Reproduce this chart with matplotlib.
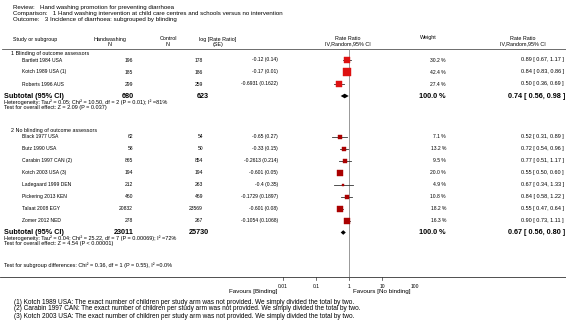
import matplotlib
matplotlib.use("Agg")
import matplotlib.pyplot as plt

plt.rcParams['font.family'] = ['Liberation Sans', 'DejaVu Sans']

# Group 1: blinding of outcome assessors
studies1 = ['Bartlett 1984 USA', 'Kotch 1989 USA (1)', 'Roberts 1996 AUS']
hw_n1 = [196, 185, 299]
ctrl_n1 = [178, 186, 259]
logrr1 = [-0.12, -0.17, -0.6931]
se1 = [0.14, 0.01, 0.1622]
weight1 = [30.2, 42.4, 27.4]
rr1 = [0.89, 0.84, 0.50]
lo1 = [0.67, 0.83, 0.36]
hi1 = [1.17, 0.86, 0.69]
total1 = (680, 623, 0.74, 0.56, 0.98)
het1 = 'Heterogeneity: Tau\u00b2 = 0.05; Chi\u00b2 = 10.50, df = 2 (P = 0.01); I\u00b2 =81%'
test1 = 'Test for overall effect: Z = 2.09 (P = 0.037)'

# Group 2: no blinding of outcome assessors
studies2 = ['Black 1977 USA', 'Butz 1990 USA', 'Carabin 1997 CAN (2)', 'Kotch 2003 USA (3)',
            'Ladegaard 1999 DEN', 'Pickering 2013 KEN', 'Talaat 2008 EGY', 'Zomer 2012 NED']
hw_n2 = [62, 58, 865, 194, 212, 460, 20832, 278]
ctrl_n2 = [54, 50, 854, 194, 263, 469, 23569, 267]
logrr2 = [-0.65, -0.33, -0.2613, -0.601, -0.4, -0.1729, -0.601, -0.1054]
se2 = [0.27, 0.15, 0.214, 0.05, 0.35, 0.1897, 0.08, 0.1068]
weight2 = [7.1, 13.2, 9.5, 20.0, 4.9, 10.8, 18.2, 16.3]
rr2 = [0.52, 0.72, 0.77, 0.55, 0.67, 0.84, 0.55, 0.90]
lo2 = [0.31, 0.54, 0.51, 0.50, 0.34, 0.58, 0.47, 0.73]
hi2 = [0.89, 0.96, 1.17, 0.60, 1.33, 1.22, 0.64, 1.11]
total2 = (23011, 25730, 0.67, 0.56, 0.80)
het2 = 'Heterogeneity: Tau\u00b2 = 0.04; Chi\u00b2 = 25.22, df = 7 (P = 0.00069); I\u00b2 =72%'
test2 = 'Test for overall effect: Z = 4.54 (P < 0.00001)'

subgroup_test = 'Test for subgroup differences: Chi\u00b2 = 0.36, df = 1 (P = 0.55), I\u00b2 =0.0%'
ticks = [0.01, 0.1, 1, 10, 100]
tick_labels = ['0.01', '0.1', '1', '10', '100']
footnotes = [
    '(1) Kotch 1989 USA: The exact number of children per study arm was not provided. We simply divided the total by two.',
    '(2) Carabin 1997 CAN: The exact number of children per study arm was not provided. We simply divided the total by two.',
    '(3) Kotch 2003 USA: The exact number of children per study arm was not provided. We simply divided the total by two.',
]

fig = plt.figure(figsize=(5.66, 3.34), dpi=100)
ax = fig.add_axes([0, 0, 1, 1])
ax.set_xlim(0, 566)
ax.set_ylim(334, 0)
ax.axis('off')

# forest panel on a log scale, 0.01 .. 100
fax = fig.add_axes([283 / 566, 0, 132 / 566, 1])
fax.set_xscale('log')
fax.set_xlim(0.01, 100)
fax.set_ylim(334, 0)
fax.axis('off')

fs = 3.6       # table rows
fs_hd = 3.9    # column headers
fs_st = 4.0    # heterogeneity / tests
fs_tt = 4.45   # review / comparison / outcome
fs_rc = 4.0    # right-hand rate ratio column
fsb = 5.2      # subtotal rows

ax.text(13, 8, 'Review:   Hand washing promotion for preventing diarrhoea', fontsize=fs_tt, va='center')
ax.text(13, 13.5, 'Comparison:   1 Hand washing intervention at child care centres and schools versus no intervention',
        fontsize=fs_tt, va='center')
ax.text(13, 19, 'Outcome:   3 Incidence of diarrhoea: subgrouped by blinding', fontsize=fs_tt, va='center')

# column headers
ax.text(13, 39, 'Study or subgroup', fontsize=fs_hd, va='center')
ax.text(110, 39, 'Handwashing', fontsize=fs_hd, va='center', ha='center')
ax.text(110, 44.5, 'N', fontsize=fs_hd, va='center', ha='center')
ax.text(168, 39, 'Control', fontsize=fs_hd, va='center', ha='center')
ax.text(168, 44.5, 'N', fontsize=fs_hd, va='center', ha='center')
ax.text(218, 39, 'log [Rate Ratio]', fontsize=fs_hd, va='center', ha='center')
ax.text(218, 44.5, '(SE)', fontsize=fs_hd, va='center', ha='center')
ax.text(348, 38, 'Rate Ratio', fontsize=fs_hd, va='center', ha='center')
ax.text(348, 43.5, 'IV,Random,95% CI', fontsize=fs_hd, va='center', ha='center')
ax.text(428, 38, 'Weight', fontsize=fs_hd, va='center', ha='center')
ax.text(523, 38, 'Rate Ratio', fontsize=fs_hd, va='center', ha='center')
ax.text(523, 43.5, 'IV,Random,95% CI', fontsize=fs_hd, va='center', ha='center')
ax.plot([2, 566], [49, 49], color='#555555', lw=0.6)

groups = [
    ('1 Blinding of outcome assessors', studies1, hw_n1, ctrl_n1, logrr1, se1, weight1, rr1, lo1, hi1,
     total1, het1, test1, '#dd1111', 54),
    ('2 No blinding of outcome assessors', studies2, hw_n2, ctrl_n2, logrr2, se2, weight2, rr2, lo2, hi2,
     total2, het2, test2, '#aa0000', 130.5),
]

for (title, names, hw, ctrl, lrr, se, w, rr, lo, hi, tot, het, test, col, y0) in groups:
    ax.text(11, y0, title, fontsize=fs_hd, va='center')
    y = y0 + 6
    for i in range(len(names)):
        ax.text(22, y, names[i], fontsize=fs, va='center')
        ax.text(133, y, str(hw[i]), fontsize=fs, va='center', ha='right')
        ax.text(203, y, str(ctrl[i]), fontsize=fs, va='center', ha='right')
        ax.text(278, y, '%s (%s)' % (lrr[i], se[i]), fontsize=fs, va='center', ha='right')
        ax.text(446, y, '%.1f %%' % w[i], fontsize=fs, va='center', ha='right')
        ax.text(564, y, '%.2f [ %.2f, %.2f ]' % (rr[i], lo[i], hi[i]), fontsize=fs_rc, va='center', ha='right')
        fax.plot([lo[i], hi[i]], [y, y], color='#333333', lw=0.6, zorder=2)
        side = 1.25 * w[i] ** 0.5 * 0.72
        fax.plot([rr[i]], [y], marker='s', ms=side, color=col, mec=col, mew=0.3, zorder=3)
        y += 12
    # subtotal
    ax.text(4, y, 'Subtotal (95% CI)', fontsize=fsb, fontweight='bold', va='center')
    ax.text(134, y, str(tot[0]), fontsize=fsb, fontweight='bold', va='center', ha='right')
    ax.text(209, y, str(tot[1]), fontsize=fsb, fontweight='bold', va='center', ha='right')
    ax.text(446, y, '100.0 %', fontsize=fsb, fontweight='bold', va='center', ha='right')
    ax.text(565, y, '%.2f [ %.2f, %.2f ]' % (tot[2], tot[3], tot[4]), fontsize=fsb, fontweight='bold',
            va='center', ha='right')
    fax.fill([tot[3], tot[2], tot[4], tot[2]], [y, y - 2.3, y, y + 2.3], color='black', lw=0, zorder=3)
    ax.text(4, y + 6, het, fontsize=fs_st, va='center')
    ax.text(4, y + 11.5, test, fontsize=fs_st, va='center')

ax.text(4, 265, subgroup_test, fontsize=fs_st, va='center')

# null line and axis
fax.plot([1, 1], [49, 277], color='#888888', lw=0.6, zorder=1)
ax.plot([0, 566], [277, 277], color='#333333', lw=0.6)
for t, lab in zip(ticks, tick_labels):
    fax.plot([t, t], [277, 280], color='#333333', lw=0.5)
    fax.text(t, 286, lab, fontsize=fs, va='center', ha='center')
ax.text(277, 291.5, 'Favours [Binding]', fontsize=4.5, va='center', ha='right')
ax.text(353, 291.5, 'Favours [No binding]', fontsize=4.5, va='center', ha='left')

for k, note in enumerate(footnotes):
    ax.text(14, 302 + 7 * k, note, fontsize=4.7, va='center')

fig.savefig('out.png', dpi=100)
